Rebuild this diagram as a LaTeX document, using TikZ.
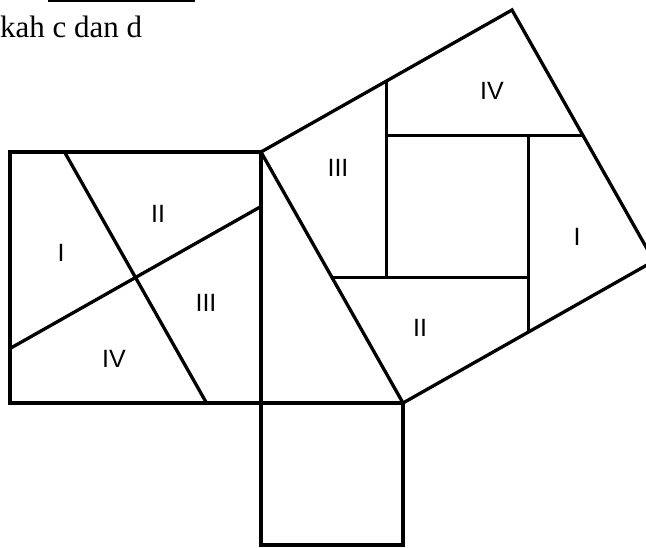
\documentclass[tikz,border=0pt]{standalone}
\usepackage{fontspec}
\setmainfont{Liberation Serif}
\newfontfamily\piecefont{Liberation Sans}
\usetikzlibrary{calc}

\tikzset{
    edge/.style={line width=3.3pt, line cap=rect, line join=miter},
    cut/.style={line width=3.3pt},
    piece/.style={font=\piecefont\fontsize{25}{29}\selectfont, inner sep=0pt}
}

\begin{document}
\begin{tikzpicture}[x=1pt, y=-1pt]
        % --- SETTINGS ---
        \def\legV{251}
        \def\legH{142}
        \useasboundingbox (0,0) rectangle (646,548);
        \clip (0,0) rectangle (646,548);

        % Corners of the right triangle
        \coordinate (top) at (261,152);
        \coordinate (rt) at (261,403);
        \coordinate (bot) at (403,403);
        % Corners of the square on the hypotenuse
        \coordinate (apex) at (512,10);
        \coordinate (far) at (654,261);

        % =========================================
        % HEADER (cut-off text line)
        % =========================================
        \draw[line width=3pt] (48,1) -- (195,1);
        \node[anchor=base west, inner sep=0pt, font=\fontsize{31}{36}\selectfont] (hdr) at (0,38) {kah c dan d};

        % =========================================
        % SQUARE ON THE LONG LEG (Left)
        % =========================================
        \draw[edge] (10,152) rectangle (rt);
        % Cuts through the centre
        \draw[cut] (64.5,152) -- (206.5,403);
        \draw[cut] (10,348.5) -- (261,206.5);

        \node[piece] (lI) at (61,253) {I};
        \node[piece] (lII) at (158,214) {II};
        \node[piece] (lIII) at (206,303) {III};
        \node[piece] (lIV) at (114,359) {IV};

        % =========================================
        % SQUARE ON THE SHORT LEG (Bottom)
        % =========================================
        \draw[edge] (rt) rectangle (403,545);

        % =========================================
        % SQUARE ON THE HYPOTENUSE (Right)
        % =========================================
        \draw[edge] (top) -- (bot);
        \draw[edge] (top) -- (apex) -- (far) -- (bot);

        % Pinwheel cuts round the inner square
        \draw[cut] (386.5,81) -- (386.5,277.5);
        \draw[cut] (386.5,135.5) -- (583,135.5);
        \draw[cut] (528.5,135.5) -- (528.5,332);
        \draw[cut] (528.5,277.5) -- (332,277.5);

        \node[piece] (rIII) at (338,168) {III};
        \node[piece] (rIV) at (492,91) {IV};
        \node[piece] (rI) at (577,237) {I};
        \node[piece] (rII) at (420,328) {II};
\end{tikzpicture}
\end{document}
